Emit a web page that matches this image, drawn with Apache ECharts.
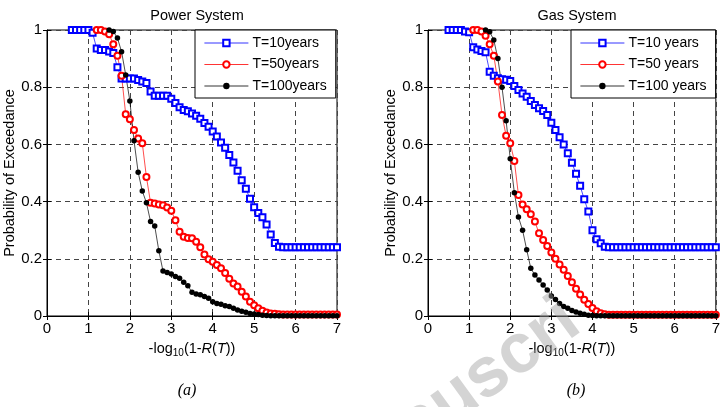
<!DOCTYPE html>
<html>
<head>
<meta charset="utf-8">
<script src="https://cdn.jsdelivr.net/npm/echarts@6/dist/echarts.min.js"></script>
<style>
  html, body { margin: 0; padding: 0; background: #fff; }
  #main { width: 723px; height: 407px; }
</style>
</head>
<body>
<div id="main"></div>
<script>
// x grid of the curves: -log10(1-R(T))
const xs = [0.5, 0.6, 0.7, 0.8, 0.9, 1.0, 1.1, 1.2, 1.3, 1.4,
  1.5, 1.6, 1.7, 1.8, 1.9, 2.0, 2.1, 2.2, 2.3, 2.4,
  2.5, 2.6, 2.7, 2.8, 2.9, 3.0, 3.1, 3.2, 3.3, 3.4,
  3.5, 3.6, 3.7, 3.8, 3.9, 4.0, 4.1, 4.2, 4.3, 4.4,
  4.5, 4.6, 4.7, 4.8, 4.9, 5.0, 5.1, 5.2, 5.3, 5.4,
  5.5, 5.6, 5.7, 5.8, 5.9, 6.0, 6.1, 6.2, 6.3, 6.4,
  6.5, 6.6, 6.7, 6.8, 6.9, 7.0];

// (a) power system
const powerT10 = [null, 1, 1, 1, 1, 1, 0.99, 0.935, 0.93, 0.93,
  0.925, 0.92, 0.87, 0.83, 0.83, 0.83, 0.83, 0.825, 0.82, 0.815,
  0.785, 0.77, 0.77, 0.77, 0.77, 0.76, 0.745, 0.73, 0.72, 0.716,
  0.708, 0.70, 0.69, 0.675, 0.662, 0.645, 0.628, 0.607, 0.588, 0.563,
  0.537, 0.508, 0.475, 0.445, 0.41, 0.38, 0.36, 0.345, 0.32, 0.285,
  0.255, 0.242, 0.24, 0.24, 0.24, 0.24, 0.24, 0.24, 0.24, 0.24,
  0.24, 0.24, 0.24, 0.24, 0.24, 0.24];
const powerT50 = [null, null, null, null, null, null, null, 1, 1, 0.995,
  0.985, 0.95, 0.91, 0.84, 0.705, 0.688, 0.65, 0.621, 0.604, 0.486,
  0.396, 0.393, 0.39, 0.387, 0.379, 0.368, 0.335, 0.295, 0.277, 0.273,
  0.272, 0.26, 0.24, 0.215, 0.198, 0.19, 0.178, 0.167, 0.15, 0.13,
  0.114, 0.103, 0.085, 0.068, 0.05, 0.038, 0.027, 0.018, 0.012, 0.009,
  0.008, 0.006, 0.005, 0.005, 0.005, 0.005, 0.005, 0.005, 0.005, 0.005,
  0.005, 0.005, 0.005, 0.005, 0.005, 0.005];
const powerT100 = [null, null, null, null, null, null, null, null, null, null,
  1, 0.995, 0.972, 0.924, 0.843, 0.752, 0.613, 0.503, 0.437, 0.396,
  0.33, 0.315, 0.228, 0.157, 0.152, 0.147, 0.138, 0.132, 0.118, 0.106,
  0.083, 0.077, 0.074, 0.068, 0.062, 0.05, 0.044, 0.041, 0.036, 0.033,
  0.027, 0.021, 0.017, 0.013, 0.009, 0.007, 0.005, 0.003, 0.002, 0.001,
  0.001, 0.001, 0.001, 0.001, 0.001, 0.001, 0.001, 0.001, 0.001, 0.001,
  0.001, 0.001, 0.001, 0.001, 0.001, 0.001];

// (b) gas system
const gasT10 = [1, 1, 1, 1, 0.995, 0.992, 0.94, 0.932, 0.927, 0.922,
  0.854, 0.84, 0.831, 0.828, 0.826, 0.822, 0.804, 0.79, 0.778, 0.767,
  0.752, 0.738, 0.726, 0.717, 0.703, 0.676, 0.65, 0.625, 0.6, 0.569,
  0.536, 0.497, 0.455, 0.408, 0.365, 0.3, 0.268, 0.254, 0.242, 0.24,
  0.24, 0.24, 0.24, 0.24, 0.24, 0.24, 0.24, 0.24, 0.24, 0.24,
  0.24, 0.24, 0.24, 0.24, 0.24, 0.24, 0.24, 0.24, 0.24, 0.24,
  0.24, 0.24, 0.24, 0.24, 0.24, 0.24];
const gasT50 = [null, null, null, null, null, null, 1, 1, 0.995, 0.98,
  0.95, 0.91, 0.82, 0.703, 0.63, 0.604, 0.542, 0.423, 0.39, 0.373,
  0.356, 0.33, 0.289, 0.266, 0.245, 0.222, 0.2, 0.18, 0.162, 0.14,
  0.118, 0.095, 0.075, 0.057, 0.042, 0.028, 0.017, 0.01, 0.006, 0.004,
  0.004, 0.004, 0.004, 0.004, 0.004, 0.004, 0.004, 0.004, 0.004, 0.004,
  0.004, 0.004, 0.004, 0.004, 0.004, 0.004, 0.004, 0.004, 0.004, 0.004,
  0.004, 0.004, 0.004, 0.004, 0.004, 0.004];
const gasT100 = [null, null, null, null, null, null, null, null, null, 1,
  0.994, 0.965, 0.9, 0.8, 0.683, 0.55, 0.431, 0.346, 0.3, 0.232,
  0.167, 0.143, 0.126, 0.108, 0.091, 0.07, 0.058, 0.044, 0.033, 0.027,
  0.019, 0.014, 0.01, 0.006, 0.003, 0.002, 0.001, 0.001, 0.001, 0.001,
  0.001, 0.001, 0.001, 0.001, 0.001, 0.001, 0.001, 0.001, 0.001, 0.001,
  0.001, 0.001, 0.001, 0.001, 0.001, 0.001, 0.001, 0.001, 0.001, 0.001,
  0.001, 0.001, 0.001, 0.001, 0.001, 0.001];

const powerNames = ["T=10years", "T=50years", "T=100years"];
const gasNames = ["T=10 years", "T=50 years", "T=100 years"];
const panelTitles = ["Power System", "Gas System"];
const panelTags = ["(a)", "(b)"];

const FONT = "Liberation Sans, Arial, sans-serif";
const BLUE = "#0000ff";
const RED = "#ff0000";

function pairs(ys) {
  const out = [];
  ys.forEach((y, i) => {
    if (y !== null) out.push([xs[i], y]);
  });
  return out;
}

const grids = [
  { left: 47, top: 30, width: 290, height: 286, show: true, borderColor: "#000", borderWidth: 1, backgroundColor: "transparent" },
  { left: 428, top: 30, width: 289, height: 286, show: true, borderColor: "#000", borderWidth: 1, backgroundColor: "transparent" },
];

function bottomAxis(gi) {
  return {
    type: "value", gridIndex: gi, min: 0, max: 7, interval: 1,
    axisLine: { show: true, onZero: false, lineStyle: { color: "#000", width: 1 } },
    axisTick: { show: true, inside: true, length: 4, lineStyle: { color: "#000" } },
    axisLabel: { color: "#000", fontSize: 15, fontFamily: FONT, margin: 5 },
    splitLine: { show: true, lineStyle: { color: "#444", type: [5, 4], width: 1 } },
    name: "-log{s|10}(1-{i|R}({i|T}))",
    nameLocation: "middle",
    nameGap: 23,
    nameTextStyle: {
      color: "#000", fontSize: 14.5, fontFamily: FONT,
      rich: {
        s: { fontSize: 10, fontFamily: FONT, padding: [9, 0, 0, 0] },
        i: { fontSize: 14.5, fontFamily: FONT, fontStyle: "italic" },
      },
    },
  };
}
function topAxis(gi) {
  return {
    type: "value", gridIndex: gi, min: 0, max: 7, interval: 1, position: "top",
    axisLine: { show: false },
    axisTick: { show: true, inside: true, length: 4, lineStyle: { color: "#000" } },
    axisLabel: { show: false },
    splitLine: { show: false },
  };
}
function leftAxis(gi) {
  return {
    type: "value", gridIndex: gi, min: 0, max: 1, interval: 0.2,
    axisLine: { show: true, onZero: false, lineStyle: { color: "#000", width: 1 } },
    axisTick: { show: true, inside: true, length: 4, lineStyle: { color: "#000" } },
    axisLabel: { color: "#000", fontSize: 15, fontFamily: FONT, margin: 5 },
    splitLine: { show: true, lineStyle: { color: "#444", type: [5, 4], width: 1 } },
    name: "Probability of Exceedance",
    nameLocation: "middle",
    nameGap: 29,
    nameTextStyle: { color: "#000", fontSize: 14.5, fontFamily: FONT },
  };
}
function rightAxis(gi) {
  return {
    type: "value", gridIndex: gi, min: 0, max: 1, interval: 0.2, position: "right",
    axisLine: { show: false },
    axisTick: { show: true, inside: true, length: 4, lineStyle: { color: "#000" } },
    axisLabel: { show: false },
    splitLine: { show: false },
  };
}

function makeSeries(name, ys, gi, kind) {
  const s = {
    name: name, type: "line", xAxisIndex: gi, yAxisIndex: gi,
    data: pairs(ys), clip: false, animation: false,
    symbolSize: 6,
  };
  if (kind === "t10") {
    s.symbol = "emptyRect";
    s.lineStyle = { color: BLUE, width: 0.7 };
    s.itemStyle = { color: BLUE, borderWidth: 0.8 };
  } else if (kind === "t50") {
    s.symbol = "emptyCircle";
    s.lineStyle = { color: RED, width: 0.7 };
    s.itemStyle = { color: RED, borderWidth: 0.8 };
  } else {
    s.symbol = "circle";
    s.symbolSize = 5.5;
    s.lineStyle = { color: "#000", width: 0.7 };
    s.itemStyle = { color: "#000" };
  }
  return s;
}

function legendFor(names, left) {
  return {
    data: names, orient: "vertical", left: left, top: 30,
    backgroundColor: "#fff", borderColor: "#000", borderWidth: 1,
    padding: [6, 9, 5, 9],
    itemWidth: 44, itemHeight: 8, itemGap: 7.5,
    lineStyle: { width: 0.8 },
    itemStyle: { borderWidth: 0.8 },
    textStyle: { color: "#000", fontSize: 14, fontFamily: FONT, padding: [0, 0, 0, -1] },
    selectedMode: false,
  };
}

const chart = echarts.init(document.getElementById("main"), null, { renderer: "canvas" });
chart.setOption({
  animation: false,
  backgroundColor: "#fff",
  title: [
    { text: panelTitles[0], left: 192, top: 3, textAlign: "center", textStyle: { fontSize: 14.5, fontWeight: "normal", color: "#000", fontFamily: FONT } },
    { text: panelTitles[1], left: 572, top: 3, textAlign: "center", textStyle: { fontSize: 14.5, fontWeight: "normal", color: "#000", fontFamily: FONT } },
    { text: panelTags[0], left: 182, top: 378, textAlign: "center", textStyle: { fontSize: 16, fontWeight: "normal", fontStyle: "italic", color: "#000", fontFamily: "Liberation Serif, Times New Roman, serif" } },
    { text: panelTags[1], left: 571, top: 378, textAlign: "center", textStyle: { fontSize: 16, fontWeight: "normal", fontStyle: "italic", color: "#000", fontFamily: "Liberation Serif, Times New Roman, serif" } },
  ],
  legend: [legendFor(powerNames, 195), legendFor(gasNames, 571)],
  grid: grids,
  xAxis: [bottomAxis(0), bottomAxis(1), topAxis(0), topAxis(1)],
  yAxis: [leftAxis(0), leftAxis(1), rightAxis(0), rightAxis(1)],
  series: [
    makeSeries(powerNames[0], powerT10, 0, "t10"),
    makeSeries(powerNames[1], powerT50, 0, "t50"),
    makeSeries(powerNames[2], powerT100, 0, "t100"),
    makeSeries(gasNames[0], gasT10, 1, "t10"),
    makeSeries(gasNames[1], gasT50, 1, "t50"),
    makeSeries(gasNames[2], gasT100, 1, "t100"),
  ],
  graphic: [
    {
      // faint "Accepted Manuscript" stamp crossing panel (b)
      type: "text", x: 324, y: 495, rotation: 0.63, z: 100, silent: true,
      style: { x: 0, y: 0, text: "Manuscri", align: "left", verticalAlign: "middle", fontSize: 70, fontWeight: "bold", fontFamily: FONT, fill: "rgba(160,160,160,0.45)" },
    },
  ],
});
</script>
</body>
</html>
